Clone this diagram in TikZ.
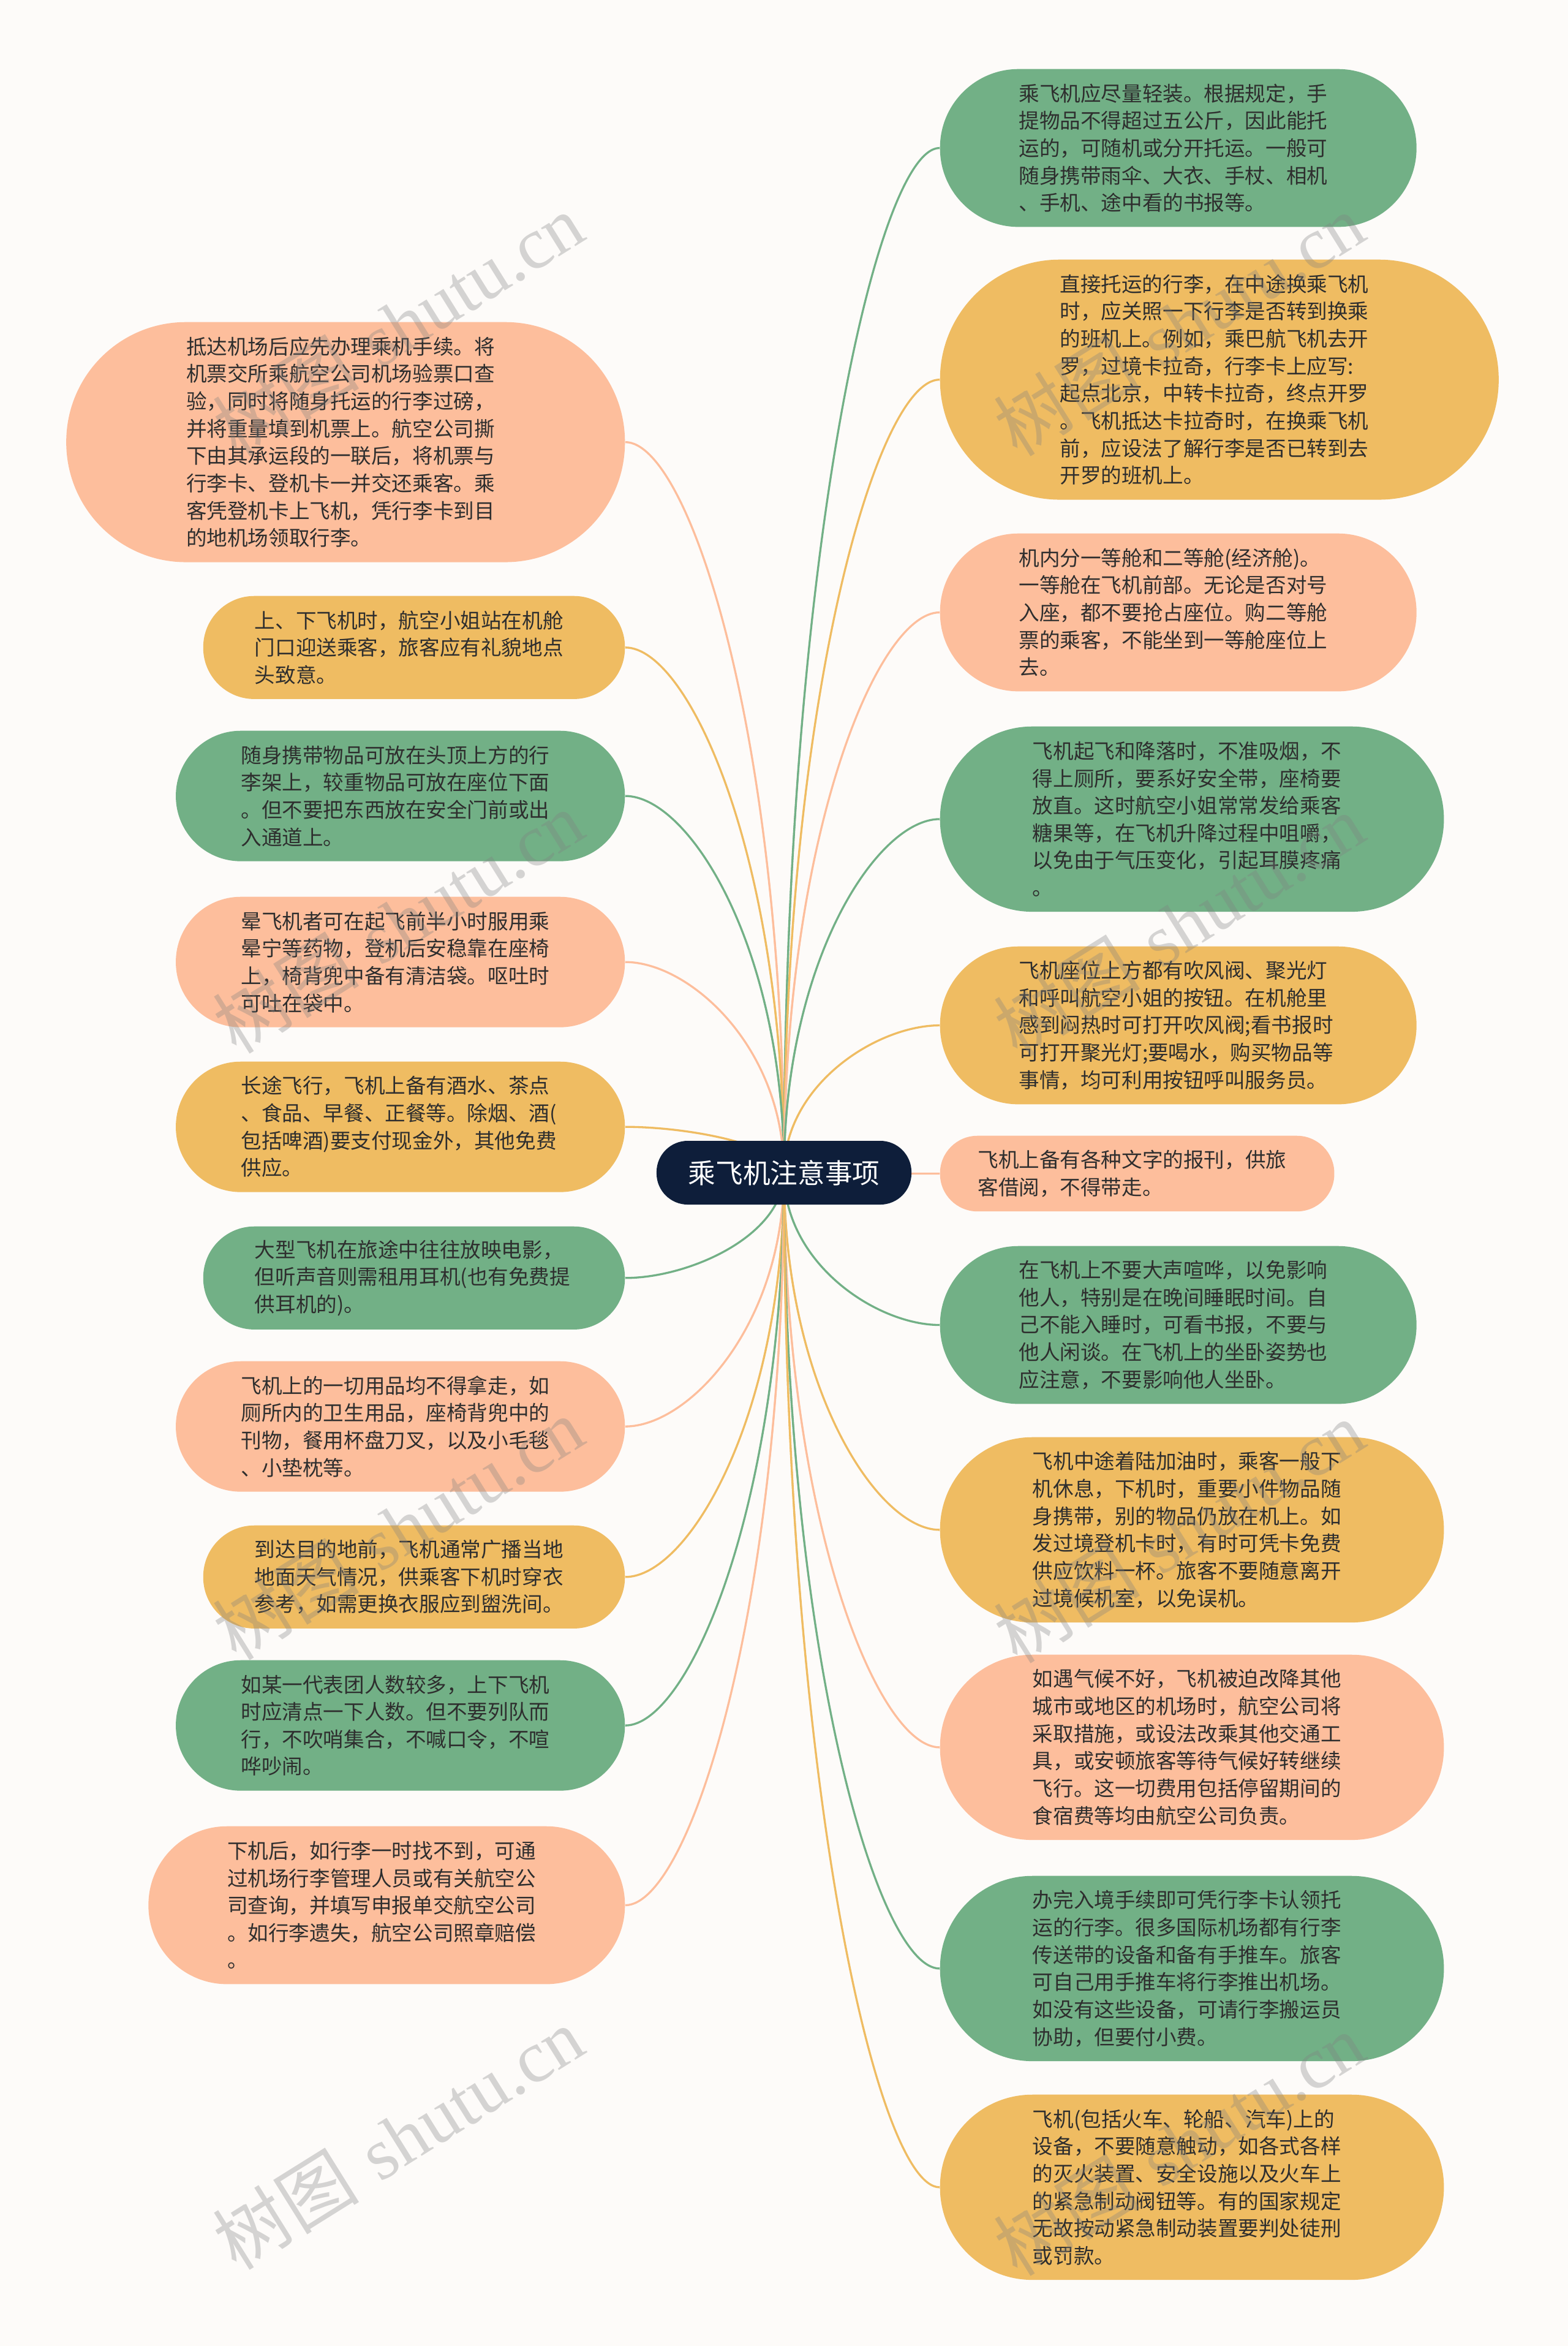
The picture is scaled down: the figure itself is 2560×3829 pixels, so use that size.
\documentclass[tikz,border=0pt]{standalone}
\usepackage{fontspec}
\newfontfamily\cjk{Noto Sans CJK SC}
\newfontfamily\wmlat{Liberation Serif}
\usetikzlibrary{calc}
\pgfdeclarelayer{bg}\pgfdeclarelayer{fg}\pgfsetlayers{bg,main,fg}
\definecolor{bgc}{HTML}{FDFBF9}
\definecolor{grn}{HTML}{72B086}
\definecolor{ylw}{HTML}{EFBC62}
\definecolor{sal}{HTML}{FDBE9C}
\definecolor{navy}{HTML}{0E1E3A}
\definecolor{txt}{HTML}{2E2E2E}
\newcommand\linkto[2]{%
  \fill[#1] ($(c.center)+(-1.5,0)$) .. controls ($(c.center)!0.6!(c.center |- #2)+(-1.5,0)$) and ($(c.center |- #2)!0.6!(#2)$) .. (#2)
     .. controls ($(c.center |- #2)!0.6!(#2)$) and ($(c.center)!0.6!(c.center |- #2)+(1.5,0)$) .. ($(c.center)+(1.5,0)$) -- cycle;
  \draw[#1,line width=0.033cm] (c.center) .. controls ($(c.center)!0.6!(c.center |- #2)$) and ($(c.center |- #2)!0.6!(#2)$) .. (#2);
}
\begin{document}
\begin{tikzpicture}[x=0.01cm,y=-0.01cm,
  base/.style={align=left, text width=5.2cm, inner ysep=0pt, text=txt,
    font=\cjk\fontsize{9.55pt}{12.7pt}\selectfont},
  h2/.style={base, minimum height=1.234cm, inner xsep=0.617cm, rounded corners=0.612cm},
  h3/.style={base, minimum height=1.681cm, inner xsep=0.8405cm, rounded corners=0.835cm},
  h4/.style={base, minimum height=2.128cm, inner xsep=1.064cm, rounded corners=1.059cm},
  h5/.style={base, minimum height=2.575cm, inner xsep=1.2875cm, rounded corners=1.282cm},
  h6/.style={base, minimum height=3.022cm, inner xsep=1.511cm, rounded corners=1.506cm},
  h8/.style={base, minimum height=3.916cm, inner xsep=1.958cm, rounded corners=1.953cm},
  lft/.style={anchor=north east},
  rgt/.style={anchor=north west},
  wm/.style={text=gray, opacity=0.32, rotate=32, inner sep=0pt, font=\fontsize{34pt}{38pt}\selectfont}
]
\useasboundingbox (0,0) rectangle (2560,3829);

\node[fill=navy, rounded corners=0.51cm, minimum width=4.16cm, minimum height=1.04cm, inner sep=0pt,
  text=white, font=\cjk\fontsize{12.7pt}{15pt}\selectfont] (c) at (1280,1914) {乘飞机注意事项};

% left column
\node[h8,lft,fill=sal] (l1) at (1021,525) {抵达机场后应先办理乘机手续。将\\机票交所乘航空公司机场验票口查\\验，同时将随身托运的行李过磅，\\并将重量填到机票上。航空公司撕\\下由其承运段的一联后，将机票与\\行李卡、登机卡一并交还乘客。乘\\客凭登机卡上飞机，凭行李卡到目\\的地机场领取行李。};
\node[h3,lft,fill=ylw] (l2) at (1021,972) {上、下飞机时，航空小姐站在机舱\\门口迎送乘客，旅客应有礼貌地点\\头致意。};
\node[h4,lft,fill=grn] (l3) at (1021,1192) {随身携带物品可放在头顶上方的行\\李架上，较重物品可放在座位下面\\。但不要把东西放在安全门前或出\\入通道上。};
\node[h4,lft,fill=sal] (l4) at (1021,1463) {晕飞机者可在起飞前半小时服用乘\\晕宁等药物，登机后安稳靠在座椅\\上，椅背兜中备有清洁袋。呕吐时\\可吐在袋中。};
\node[h4,lft,fill=ylw] (l5) at (1021,1732) {长途飞行，飞机上备有酒水、茶点\\、食品、早餐、正餐等。除烟、酒(\\包括啤酒)要支付现金外，其他免费\\供应。};
\node[h3,lft,fill=grn] (l6) at (1021,2001) {大型飞机在旅途中往往放映电影，\\但听声音则需租用耳机(也有免费提\\供耳机的)。};
\node[h4,lft,fill=sal] (l7) at (1021,2221) {飞机上的一切用品均不得拿走，如\\厕所内的卫生用品，座椅背兜中的\\刊物，餐用杯盘刀叉，以及小毛毯\\、小垫枕等。};
\node[h3,lft,fill=ylw] (l8) at (1021,2489) {到达目的地前，飞机通常广播当地\\地面天气情况，供乘客下机时穿衣\\参考，如需更换衣服应到盥洗间。};
\node[h4,lft,fill=grn] (l9) at (1021,2709) {如某一代表团人数较多，上下飞机\\时应清点一下人数。但不要列队而\\行，不吹哨集合，不喊口令，不喧\\哗吵闹。};
\node[h5,lft,fill=sal] (l10) at (1021,2980) {下机后，如行李一时找不到，可通\\过机场行李管理人员或有关航空公\\司查询，并填写申报单交航空公司\\。如行李遗失，航空公司照章赔偿\\。};

% right column
\node[h5,rgt,fill=grn] (r1) at (1534,112) {乘飞机应尽量轻装。根据规定，手\\提物品不得超过五公斤，因此能托\\运的，可随机或分开托运。一般可\\随身携带雨伞、大衣、手杖、相机\\、手机、途中看的书报等。};
\node[h8,rgt,fill=ylw] (r2) at (1534,423) {直接托运的行李，在中途换乘飞机\\时，应关照一下行李是否转到换乘\\的班机上。例如，乘巴航飞机去开\\罗，过境卡拉奇，行李卡上应写:\\起点北京，中转卡拉奇，终点开罗\\。飞机抵达卡拉奇时，在换乘飞机\\前，应设法了解行李是否已转到去\\开罗的班机上。};
\node[h5,rgt,fill=sal] (r3) at (1534,870) {机内分一等舱和二等舱(经济舱)。\\一等舱在飞机前部。无论是否对号\\入座，都不要抢占座位。购二等舱\\票的乘客，不能坐到一等舱座位上\\去。};
\node[h6,rgt,fill=grn] (r4) at (1534,1185) {飞机起飞和降落时，不准吸烟，不\\得上厕所，要系好安全带，座椅要\\放直。这时航空小姐常常发给乘客\\糖果等，在飞机升降过程中咀嚼，\\以免由于气压变化，引起耳膜疼痛\\。};
\node[h5,rgt,fill=ylw] (r5) at (1534,1544) {飞机座位上方都有吹风阀、聚光灯\\和呼叫航空小姐的按钮。在机舱里\\感到闷热时可打开吹风阀;看书报时\\可打开聚光灯;要喝水，购买物品等\\事情，均可利用按钮呼叫服务员。};
\node[h2,rgt,fill=sal] (r6) at (1534,1853) {飞机上备有各种文字的报刊，供旅\\客借阅，不得带走。};
\node[h5,rgt,fill=grn] (r7) at (1534,2033) {在飞机上不要大声喧哗，以免影响\\他人，特别是在晚间睡眠时间。自\\己不能入睡时，可看书报，不要与\\他人闲谈。在飞机上的坐卧姿势也\\应注意，不要影响他人坐卧。};
\node[h6,rgt,fill=ylw] (r8) at (1534,2345) {飞机中途着陆加油时，乘客一般下\\机休息，下机时，重要小件物品随\\身携带，别的物品仍放在机上。如\\发过境登机卡时，有时可凭卡免费\\供应饮料一杯。旅客不要随意离开\\过境候机室，以免误机。};
\node[h6,rgt,fill=sal] (r9) at (1534,2700) {如遇气候不好，飞机被迫改降其他\\城市或地区的机场时，航空公司将\\采取措施，或设法改乘其他交通工\\具，或安顿旅客等待气候好转继续\\飞行。这一切费用包括停留期间的\\食宿费等均由航空公司负责。};
\node[h6,rgt,fill=grn] (r10) at (1534,3061) {办完入境手续即可凭行李卡认领托\\运的行李。很多国际机场都有行李\\传送带的设备和备有手推车。旅客\\可自己用手推车将行李推出机场。\\如没有这些设备，可请行李搬运员\\协助，但要付小费。};
\node[h6,rgt,fill=ylw] (r11) at (1534,3418) {飞机(包括火车、轮船、汽车)上的\\设备，不要随意触动，如各式各样\\的灭火装置、安全设施以及火车上\\的紧急制动阀钮等。有的国家规定\\无故按动紧急制动装置要判处徒刑\\或罚款。};

\begin{pgfonlayer}{bg}
\fill[bgc] (0,0) rectangle (2560,3829);
\linkto{sal}{l1.east}
\linkto{ylw}{l2.east}
\linkto{grn}{l3.east}
\linkto{sal}{l4.east}
\linkto{ylw}{l5.east}
\linkto{grn}{l6.east}
\linkto{sal}{l7.east}
\linkto{ylw}{l8.east}
\linkto{grn}{l9.east}
\linkto{sal}{l10.east}
\linkto{grn}{r1.west}
\linkto{ylw}{r2.west}
\linkto{sal}{r3.west}
\linkto{grn}{r4.west}
\linkto{ylw}{r5.west}
\linkto{sal}{r6.west}
\linkto{grn}{r7.west}
\linkto{ylw}{r8.west}
\linkto{sal}{r9.west}
\linkto{grn}{r10.west}
\linkto{ylw}{r11.west}
\end{pgfonlayer}

\begin{pgfonlayer}{fg}
\node[wm] (w1) at (650,530) {{\cjk 树图} {\wmlat shutu.cn}};
\node[wm] (w2) at (1925,530) {{\cjk 树图} {\wmlat shutu.cn}};
\node[wm] (w3) at (650,1505) {{\cjk 树图} {\wmlat shutu.cn}};
\node[wm] (w4) at (1925,1510) {{\cjk 树图} {\wmlat shutu.cn}};
\node[wm] (w5) at (650,2495) {{\cjk 树图} {\wmlat shutu.cn}};
\node[wm] (w6) at (1925,2500) {{\cjk 树图} {\wmlat shutu.cn}};
\node[wm] (w7) at (650,3490) {{\cjk 树图} {\wmlat shutu.cn}};
\node[wm] (w8) at (1925,3500) {{\cjk 树图} {\wmlat shutu.cn}};
\end{pgfonlayer}
\end{tikzpicture}
\end{document}
